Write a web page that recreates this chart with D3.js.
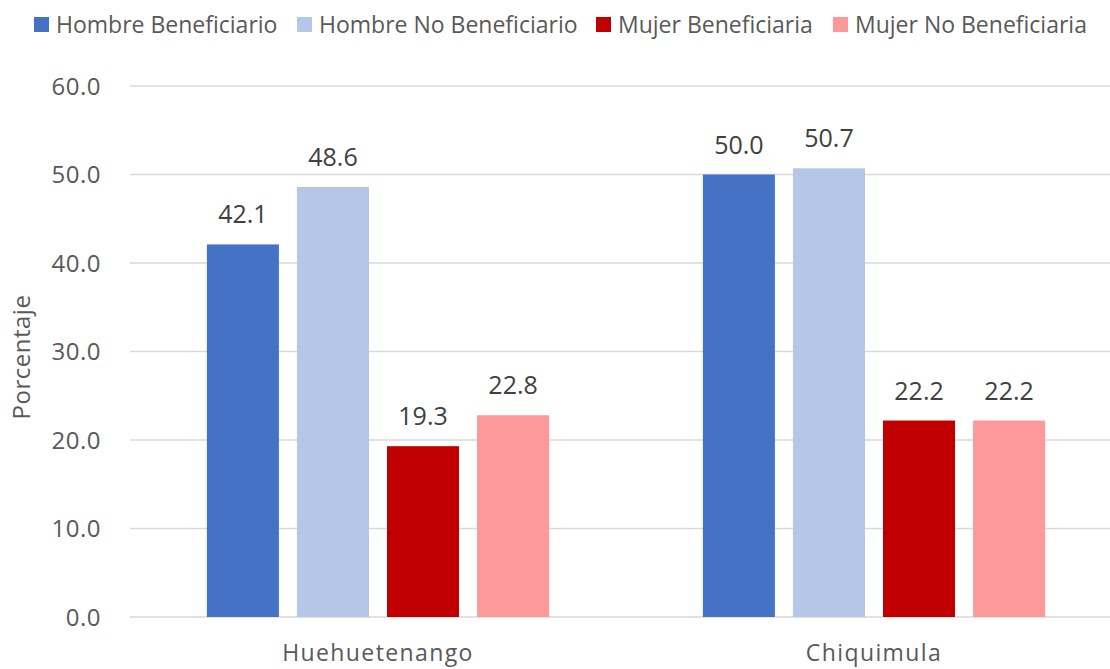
<!DOCTYPE html>
<html>
<head>
<meta charset="utf-8">
<script src="https://cdn.jsdelivr.net/npm/d3@7"></script>
<style>
  body { margin: 0; background: #fff; }
  svg text { font-family: "Open Sans", "Noto Sans", sans-serif; }
</style>
</head>
<body>
<svg id="chart" width="1110" height="669"></svg>
<script>
const categories = ["Huehuetenango", "Chiquimula"];
const series = ["Hombre Beneficiario", "Hombre No Beneficiario", "Mujer Beneficiaria", "Mujer No Beneficiaria"];
const colors = ["#4472c4", "#b4c7e7", "#c00000", "#ff9999"];
const hombreBen = [42.1, 50.0];
const hombreNoBen = [48.6, 50.7];
const mujerBen = [19.3, 22.2];
const mujerNoBen = [22.8, 22.2];
const yTicks = [0, 10, 20, 30, 40, 50, 60];

const values = [hombreBen, hombreNoBen, mujerBen, mujerNoBen];
const rows = [];
categories.forEach((c, i) => {
  series.forEach((s, j) => rows.push({ cat: c, series: s, idx: j, value: values[j][i] }));
});

const svg = d3.select("#chart");
const margin = { left: 130, right: 1122, top: 86, bottom: 617 };

const x = d3.scaleBand().domain(categories).range([margin.left, margin.right]).paddingInner(0.31).paddingOuter(0.155);
const x1 = d3.scaleBand().domain(series).range([0, x.bandwidth()]).paddingInner(0.2);
const y = d3.scaleLinear().domain([0, 60]).range([margin.bottom, margin.top]);

// gridlines
svg.append("g")
  .selectAll("line")
  .data(yTicks)
  .enter()
  .append("line")
  .attr("x1", margin.left)
  .attr("x2", 1110)
  .attr("y1", (d) => y(d))
  .attr("y2", (d) => y(d))
  .attr("stroke", "#d9d9d9")
  .attr("stroke-width", 1.5);

// y tick labels
svg.append("g")
  .selectAll("text")
  .data(yTicks)
  .enter()
  .append("text")
  .attr("x", 101)
  .attr("y", (d) => y(d))
  .attr("dy", "0.36em")
  .attr("text-anchor", "end")
  .attr("font-size", "24px")
  .attr("letter-spacing", "0.5px")
  .attr("fill", "#595959")
  .text((d) => d.toFixed(1));

// bars
svg.append("g")
  .selectAll("rect")
  .data(rows)
  .enter()
  .append("rect")
  .attr("x", (d) => x(d.cat) + x1(d.series))
  .attr("y", (d) => y(d.value))
  .attr("width", x1.bandwidth())
  .attr("height", (d) => y(0) - y(d.value))
  .attr("fill", (d) => colors[d.idx]);

// data labels
svg.append("g")
  .selectAll("text")
  .data(rows)
  .enter()
  .append("text")
  .attr("x", (d) => x(d.cat) + x1(d.series) + x1.bandwidth() / 2)
  .attr("y", (d) => y(d.value) - 21)
  .attr("text-anchor", "middle")
  .attr("font-size", "25px")
  .attr("fill", "#404040")
  .text((d) => d.value.toFixed(1));

// category labels
svg.append("g")
  .selectAll("text")
  .data(categories)
  .enter()
  .append("text")
  .attr("x", (d) => x(d) + x.bandwidth() / 2)
  .attr("y", 661)
  .attr("text-anchor", "middle")
  .attr("font-size", "23px")
  .attr("letter-spacing", "1.4px")
  .attr("fill", "#595959")
  .text((d) => d);

// y axis title
svg.append("text")
  .attr("transform", "translate(30,357) rotate(-90)")
  .attr("text-anchor", "middle")
  .attr("font-size", "24px")
  .attr("letter-spacing", "0.5px")
  .attr("fill", "#595959")
  .text("Porcentaje");

// legend
const legendX = [34, 297, 596, 833];
const legend = svg.append("g")
  .selectAll("g")
  .data(series)
  .enter()
  .append("g")
  .attr("transform", (d, i) => `translate(${legendX[i]},17)`);

legend.append("rect")
  .attr("width", 15)
  .attr("height", 15)
  .attr("fill", (d, i) => colors[i]);

legend.append("text")
  .attr("x", 22)
  .attr("y", 7.5)
  .attr("dy", "0.36em")
  .attr("font-size", "23px")
  .attr("fill", "#595959")
  .text((d) => d);
</script>
</body>
</html>
